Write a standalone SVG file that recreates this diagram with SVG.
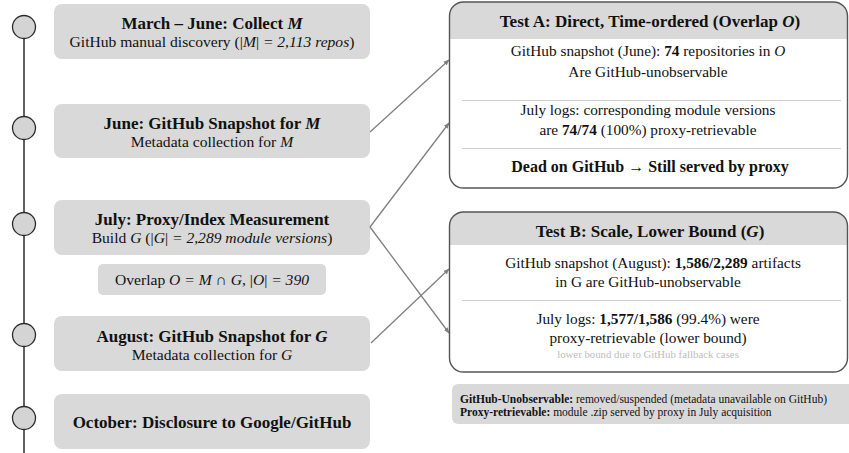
<svg xmlns="http://www.w3.org/2000/svg" width="849" height="453" viewBox="0 0 849 453">
<defs>
<style>
.bx{fill:#d9d9d9;}
.dot{fill:#d4d4d4;stroke:#2b2b2b;stroke-width:1.3;}
.t{font-family:'Liberation Serif','Times New Roman',Times,serif;fill:#111;text-anchor:middle;}
.h{font-size:17px;font-weight:bold;}
.s{font-size:15.6px;}
.b{font-size:15.3px;}
.card{fill:none;stroke:#555;stroke-width:1.4;}
.sep{stroke:#cfcfcf;stroke-width:1;}
.con{stroke:#7f7f7f;stroke-width:1.3;fill:none;marker-end:url(#arr);}
.lg{font-family:'Liberation Serif','Times New Roman',Times,serif;font-size:11.5px;fill:#111;}
</style>
<marker id="arr" viewBox="0 0 10 10" refX="9" refY="5" markerWidth="6" markerHeight="6" orient="auto" markerUnits="userSpaceOnUse">
<path d="M0,1 L10,5 L0,9 Z" fill="#7f7f7f"/>
</marker>
</defs>
<rect width="849" height="453" fill="#fff"/>

<g id="timeline">
<line x1="24" y1="38" x2="24" y2="453" stroke="#3a3a3a" stroke-width="1.6"/>
<circle class="dot" cx="24" cy="27" r="11.5"/>
<circle class="dot" cx="24" cy="128" r="11.5"/>
<circle class="dot" cx="24" cy="224" r="11.5"/>
<circle class="dot" cx="24" cy="335" r="11.5"/>
<circle class="dot" cx="24" cy="418" r="11.5"/>
</g>

<g id="n-collect">
<rect class="bx" x="54" y="4" width="316" height="55" rx="8"/>
<text class="t h" x="212" y="29">March – June: Collect <tspan font-style="italic">M</tspan></text>
<text class="t s" x="212" y="47">GitHub manual discovery (|<tspan font-style="italic">M</tspan>| <tspan font-style="italic">= 2,113 repos</tspan>)</text>
</g>

<g id="n-june">
<rect class="bx" x="54" y="104" width="316" height="54" rx="8"/>
<text class="t h" x="212" y="129">June: GitHub Snapshot for <tspan font-style="italic">M</tspan></text>
<text class="t s" x="212" y="147">Metadata collection for <tspan font-style="italic">M</tspan></text>
</g>

<g id="n-july">
<rect class="bx" x="54" y="200" width="316" height="55" rx="8"/>
<text class="t h" x="212" y="225">July: Proxy/Index Measurement</text>
<text class="t s" x="212" y="243">Build <tspan font-style="italic">G</tspan> (|<tspan font-style="italic">G</tspan>| <tspan font-style="italic">= 2,289 module versions</tspan>)</text>
</g>

<g id="n-overlap">
<rect class="bx" x="98" y="264" width="228" height="31" rx="5"/>
<text class="t s" x="212" y="285">Overlap <tspan font-style="italic">O = M ∩ G, </tspan>|<tspan font-style="italic">O</tspan>| <tspan font-style="italic">= 390</tspan></text>
</g>

<g id="n-august">
<rect class="bx" x="54" y="316" width="316" height="55" rx="8"/>
<text class="t h" x="212" y="342">August: GitHub Snapshot for <tspan font-style="italic">G</tspan></text>
<text class="t s" x="212" y="360">Metadata collection for <tspan font-style="italic">G</tspan></text>
</g>

<g id="n-october">
<rect class="bx" x="54" y="394" width="316" height="55" rx="8"/>
<text class="t h" x="212" y="428">October: Disclosure to Google/GitHub</text>
</g>

<g id="connectors">
<line class="con" x1="370" y1="132" x2="449" y2="60"/>
<line class="con" x1="370" y1="227" x2="449" y2="123"/>
<line class="con" x1="370" y1="227" x2="449" y2="333"/>
<line class="con" x1="371" y1="343" x2="449" y2="269"/>
</g>

<g id="test-a">
<path d="M449.5,39 V16 A14,14 0 0 1 463.5,2 H833.5 A14,14 0 0 1 847.5,16 V39 Z" fill="#d9d9d9"/>
<rect class="card" x="449.5" y="2" width="398" height="186" rx="14"/>
<text class="t h" x="650" y="27">Test A: Direct, Time-ordered (Overlap <tspan font-style="italic">O</tspan>)</text>
<text class="t b" x="648" y="56">GitHub snapshot (June): <tspan font-weight="bold">74</tspan> repositories in <tspan font-style="italic">O</tspan></text>
<text class="t b" x="648" y="77">Are GitHub-unobservable</text>
<line class="sep" x1="462" y1="100.5" x2="841" y2="100.5"/>
<text class="t b" x="648" y="115">July logs: corresponding module versions</text>
<text class="t b" x="648" y="135">are <tspan font-weight="bold">74/74</tspan> (100%) proxy-retrievable</text>
<line class="sep" x1="462" y1="148.5" x2="841" y2="148.5"/>
<text class="t" x="650" y="172" font-size="16" font-weight="bold">Dead on GitHub → Still served by proxy</text>
</g>

<g id="test-b">
<path d="M449.5,245 V226 A14,14 0 0 1 463.5,212 H833.5 A14,14 0 0 1 847.5,226 V245 Z" fill="#d9d9d9"/>
<rect class="card" x="449.5" y="212" width="398" height="160" rx="14"/>
<text class="t h" x="650" y="237">Test B: Scale, Lower Bound (<tspan font-style="italic">G</tspan>)</text>
<text class="t b" x="653" y="268">GitHub snapshot (August): <tspan font-weight="bold">1,586/2,289</tspan> artifacts</text>
<text class="t b" x="648" y="287">in G are GitHub-unobservable</text>
<line class="sep" x1="462" y1="300.5" x2="841" y2="300.5"/>
<text class="t b" x="648" y="324">July logs: <tspan font-weight="bold">1,577/1,586</tspan> (99.4%) were</text>
<text class="t b" x="648" y="343">proxy-retrievable (lower bound)</text>
<text class="t" x="648" y="357.5" font-size="10.8" style="fill:#bdbdbd">lower bound due to GitHub fallback cases</text>
</g>

<g id="legend">
<rect class="bx" x="452" y="384" width="405" height="40" rx="6"/>
<text class="lg" x="460" y="402.5"><tspan font-weight="bold">GitHub-Unobservable:</tspan> removed/suspended (metadata unavailable on GitHub)</text>
<text class="lg" x="460" y="416"><tspan font-weight="bold">Proxy-retrievable:</tspan> module .zip served by proxy in July acquisition</text>
</g>
</svg>
